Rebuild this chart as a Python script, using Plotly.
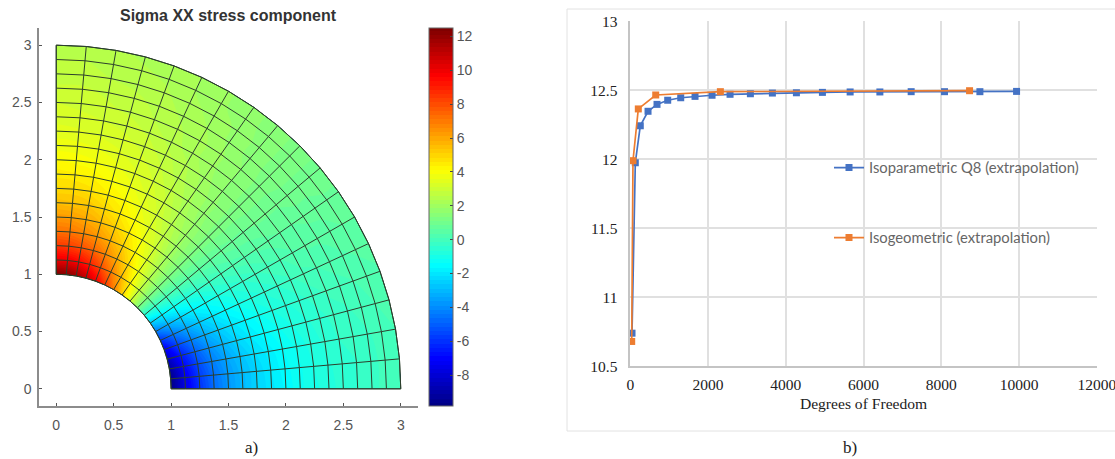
import math
import plotly.graph_objects as go

W, H = 1115, 459

# ---- panel a): mesh and nodal stress values estimated from the picture's colours
RADII = [1, 1.125, 1.25, 1.375, 1.5, 1.625, 1.75, 1.875, 2, 2.125, 2.25, 2.375, 2.5, 2.625, 2.75, 2.875, 3]
ANGLES_DEG = [0, 5, 10, 15, 20, 25, 30, 35, 40, 45, 50, 55, 60, 65, 70, 75, 80, 85, 90]
STRESS_BY_RADIUS = [
    [-9.8, -9.7, -9.3, -8.5, -7.4, -6.0, -4.4, -2.6, -0.7, 1.25, 3.2, 5.1, 6.9, 8.5, 9.9, 11.0, 11.8, 12.3, 12.5],
    [-7.6, -7.5, -7.1, -6.5, -5.6, -4.5, -3.2, -1.8, -0.3, 1.25, 2.8, 4.3, 5.7, 7.0, 8.1, 9.0, 9.6, 10.0, 10.1],
    [-6.0, -5.8, -5.5, -5.0, -4.3, -3.4, -2.4, -1.2, 0.0, 1.25, 2.5, 3.7, 4.9, 5.9, 6.8, 7.5, 8.0, 8.3, 8.5],
    [-4.7, -4.6, -4.3, -3.9, -3.3, -2.6, -1.7, -0.8, 0.2, 1.25, 2.3, 3.3, 4.2, 5.1, 5.8, 6.4, 6.8, 7.1, 7.2],
    [-3.8, -3.7, -3.5, -3.1, -2.6, -2.0, -1.3, -0.5, 0.4, 1.25, 2.1, 3.0, 3.8, 4.5, 5.1, 5.6, 5.95, 6.2, 6.3],
    [-3.0, -3.0, -2.8, -2.4, -2.0, -1.5, -0.9, -0.2, 0.5, 1.25, 2.0, 2.7, 3.4, 4.0, 4.5, 4.9, 5.3, 5.4, 5.5],
    [-2.4, -2.4, -2.2, -1.9, -1.6, -1.1, -0.6, 0.0, 0.6, 1.25, 1.9, 2.5, 3.1, 3.6, 4.1, 4.4, 4.7, 4.9, 4.9],
    [-2.0, -1.9, -1.8, -1.5, -1.2, -0.8, -0.4, 0.2, 0.7, 1.25, 1.8, 2.3, 2.9, 3.3, 3.7, 4.0, 4.3, 4.4, 4.5],
    [-1.6, -1.5, -1.4, -1.2, -0.9, -0.6, -0.2, 0.3, 0.8, 1.25, 1.7, 2.2, 2.7, 3.1, 3.4, 3.7, 3.9, 4.0, 4.1],
    [-1.2, -1.2, -1.1, -0.9, -0.7, -0.4, 0.0, 0.4, 0.8, 1.25, 1.7, 2.1, 2.5, 2.9, 3.2, 3.4, 3.6, 3.7, 3.7],
    [-1.0, -0.9, -0.8, -0.7, -0.5, -0.2, 0.1, 0.5, 0.9, 1.25, 1.6, 2.0, 2.4, 2.7, 3.0, 3.2, 3.3, 3.4, 3.5],
    [-0.7, -0.7, -0.6, -0.5, -0.3, 0.0, 0.3, 0.6, 0.9, 1.25, 1.6, 1.9, 2.2, 2.5, 2.8, 3.0, 3.1, 3.2, 3.2],
    [-0.6, -0.5, -0.4, -0.3, -0.1, 0.1, 0.4, 0.6, 0.9, 1.25, 1.6, 1.9, 2.2, 2.4, 2.6, 2.8, 2.9, 3.0, 3.1],
    [-0.4, -0.4, -0.3, -0.2, 0.0, 0.2, 0.4, 0.7, 1.0, 1.25, 1.5, 1.8, 2.1, 2.3, 2.5, 2.7, 2.8, 2.9, 2.9],
    [-0.2, -0.2, -0.2, 0.0, 0.1, 0.3, 0.5, 0.7, 1.0, 1.25, 1.5, 1.8, 2.0, 2.2, 2.4, 2.5, 2.6, 2.7, 2.7],
    [-0.1, -0.1, 0.0, 0.1, 0.2, 0.4, 0.6, 0.8, 1.0, 1.25, 1.5, 1.7, 1.9, 2.1, 2.3, 2.4, 2.5, 2.6, 2.6],
    [0.0, 0.0, 0.1, 0.2, 0.3, 0.5, 0.6, 0.8, 1.0, 1.25, 1.5, 1.7, 1.9, 2.1, 2.2, 2.3, 2.4, 2.5, 2.5],
]
Z_MIN, Z_MAX = -9.83, 12.5
AXIS_TICKS_A = [0, 0.5, 1, 1.5, 2, 2.5, 3]
AXIS_LABELS_A = ["0", "0.5", "1", "1.5", "2", "2.5", "3"]
COLORBAR_TICKS = [-8, -6, -4, -2, 0, 2, 4, 6, 8, 10, 12]
JET = [[0, "rgb(0,0,131)"], [0.125, "rgb(0,0,255)"], [0.375, "rgb(0,255,255)"],
       [0.625, "rgb(255,255,0)"], [0.875, "rgb(255,0,0)"], [1, "rgb(128,0,0)"]]

# ---- panel b): convergence curves
Q8_DOF = [44, 129, 257, 456, 687, 962, 1297, 1665, 2103, 2566, 3089, 3655, 4273, 4942, 5655, 6420, 7225, 8083, 8993, 9936]
Q8_SIGMA = [10.74, 11.975, 12.243, 12.348, 12.398, 12.428, 12.446, 12.456, 12.464, 12.471, 12.475, 12.48, 12.482,
            12.485, 12.488, 12.488, 12.49, 12.49, 12.49, 12.492]
IGA_DOF = [36, 69, 206, 654, 2317, 8727]
IGA_SIGMA = [10.68, 11.99, 12.365, 12.466, 12.49, 12.497]
Q8_NAME = "Isoparametric Q8 (extrapolation)"
IGA_NAME = "Isogeometric (extrapolation)"

# pixel helpers for layout only
def fx(p): return p / W
def fy(p): return 1 - p / H

angles = [math.radians(t) for t in ANGLES_DEG]
mesh_x = [[r * math.cos(t) for r in RADII] for t in angles]
mesh_y = [[r * math.sin(t) for r in RADII] for t in angles]
stress = [list(row) for row in zip(*STRESS_BY_RADIUS)]

fig = go.Figure()

MESH_COLOR = "#2c3f2c"
def mesh_axis(vals):
    return dict(showticklabels="none", showgrid=True, gridcolor=MESH_COLOR, gridwidth=1, minorgridcount=0,
                startline=True, endline=True, startlinecolor=MESH_COLOR, endlinecolor=MESH_COLOR,
                startlinewidth=1, endlinewidth=1, smoothing=0, tickmode="array", tickvals=vals)

fig.add_trace(go.Contourcarpet(
    a=RADII, b=ANGLES_DEG, z=stress, carpet="ring",
    autocontour=False,
    contours=dict(start=-9.9, end=12.6, size=0.25, coloring="fill", showlines=False),
    line=dict(width=0),
    colorscale=JET, zauto=False, zmin=Z_MIN, zmax=Z_MAX, showlegend=False,
    colorbar=dict(
        x=fx(429), xanchor="left", xref="paper",
        y=fy(406), yanchor="bottom", yref="paper",
        len=378, lenmode="pixels", thickness=24, thicknessmode="pixels",
        xpad=0, ypad=0,
        tickmode="array", tickvals=COLORBAR_TICKS, ticktext=[str(v) for v in COLORBAR_TICKS],
        ticks="inside", ticklen=3, tickcolor="#444444", tickwidth=1,
        tickfont=dict(family="Liberation Sans", size=14, color="#555555"),
        outlinecolor="#666666", outlinewidth=1,
    ),
))
fig.add_trace(go.Carpet(
    a=RADII, b=ANGLES_DEG, x=mesh_x, y=mesh_y, carpet="ring",
    aaxis=mesh_axis(RADII), baxis=mesh_axis(ANGLES_DEG),
))

fig.add_trace(go.Scatter(
    x=Q8_DOF, y=Q8_SIGMA, name=Q8_NAME, xaxis="x2", yaxis="y2", mode="lines+markers", legend="legend", showlegend=True,
    line=dict(color="#4472C4", width=1.7), marker=dict(symbol="square", size=7, color="#4472C4"), cliponaxis=False,
))
fig.add_trace(go.Scatter(
    x=IGA_DOF, y=IGA_SIGMA, name=IGA_NAME, xaxis="x2", yaxis="y2", mode="lines+markers", legend="legend2", showlegend=True,
    line=dict(color="#ED7D31", width=1.7), marker=dict(symbol="square", size=7, color="#ED7D31"), cliponaxis=False,
))

legend_font = dict(family="Lato", size=14.8, color="#666666")
legend_common = dict(font=legend_font, bgcolor="rgba(0,0,0,0)", borderwidth=0, xanchor="left", yanchor="middle",
                     itemwidth=30, xref="paper", yref="paper")

fig.update_layout(
    width=W, height=H,
    margin=dict(l=0, r=0, t=0, b=0, autoexpand=False),
    showlegend=True,
    paper_bgcolor="white", plot_bgcolor="white",
    title=dict(text="<b>Sigma XX stress component</b>", x=fx(228), y=fy(15), xanchor="center", yanchor="middle",
               font=dict(family="Liberation Sans", size=16, color="#333333")),
    xaxis=dict(domain=[fx(39), fx(418)], range=[-0.15, 3.15], tickmode="array", tickvals=AXIS_TICKS_A,
               ticktext=AXIS_LABELS_A, ticks="inside", ticklen=3, tickcolor="#555555", showgrid=False, zeroline=False,
               showline=True, linecolor="#8c8c8c", linewidth=1.5, anchor="y",
               ticklabelstandoff=5, tickfont=dict(family="Liberation Sans", size=14, color="#555555")),
    yaxis=dict(domain=[fy(406), fy(28)], range=[-0.15, 3.15], tickmode="array", tickvals=AXIS_TICKS_A,
               ticktext=AXIS_LABELS_A, ticks="inside", ticklen=3, tickcolor="#555555", showgrid=False, zeroline=False,
               showline=True, linecolor="#8c8c8c", linewidth=1.5, anchor="x",
               ticklabelstandoff=3, tickfont=dict(family="Liberation Sans", size=14, color="#555555")),
    xaxis2=dict(domain=[fx(630.3), fx(1096.8)], range=[0, 12000], dtick=2000, anchor="y2", ticks="",
                showgrid=True, gridcolor="#e0e0e0", gridwidth=1.5, zeroline=False,
                showline=True, linecolor="#c4c4c4", linewidth=1.5,
                ticklabelstandoff=3, tickformat="d", ticklabeloverflow="allow",
                tickfont=dict(family="Liberation Serif", size=15.5, color="#222222"),
                title=dict(text="Degrees of Freedom", standoff=6,
                           font=dict(family="Liberation Serif", size=15.6, color="#222222"))),
    yaxis2=dict(domain=[fy(366.3), fy(21.3)], range=[10.5, 13], dtick=0.5, anchor="x2", ticks="",
                showgrid=True, gridcolor="#e0e0e0", gridwidth=1.5, zeroline=False,
                showline=True, linecolor="#c4c4c4", linewidth=1.5,
                ticklabelstandoff=8,
                tickfont=dict(family="Liberation Serif", size=15.5, color="#222222")),
    legend=dict(x=fx(829), y=fy(168), **legend_common),
    legend2=dict(x=fx(829), y=fy(238), **legend_common),
    annotations=[
        dict(text="a)", x=fx(251), y=fy(447), xref="paper", yref="paper", showarrow=False, xanchor="center", yanchor="middle",
             font=dict(family="Liberation Serif", size=17, color="#222222")),
        dict(text="b)", x=fx(850), y=fy(447), xref="paper", yref="paper", showarrow=False, xanchor="center", yanchor="middle",
             font=dict(family="Liberation Serif", size=17, color="#222222")),
    ],
    shapes=[dict(type="rect", xref="paper", yref="paper", x0=fx(567), x1=1.02, y0=fy(431), y1=fy(9),
                 line=dict(color="#e2e2e2", width=1), layer="below")],
)

fig.write_html("out.html", config={"displayModeBar": False}, post_script="document.body.style.margin='0';")
